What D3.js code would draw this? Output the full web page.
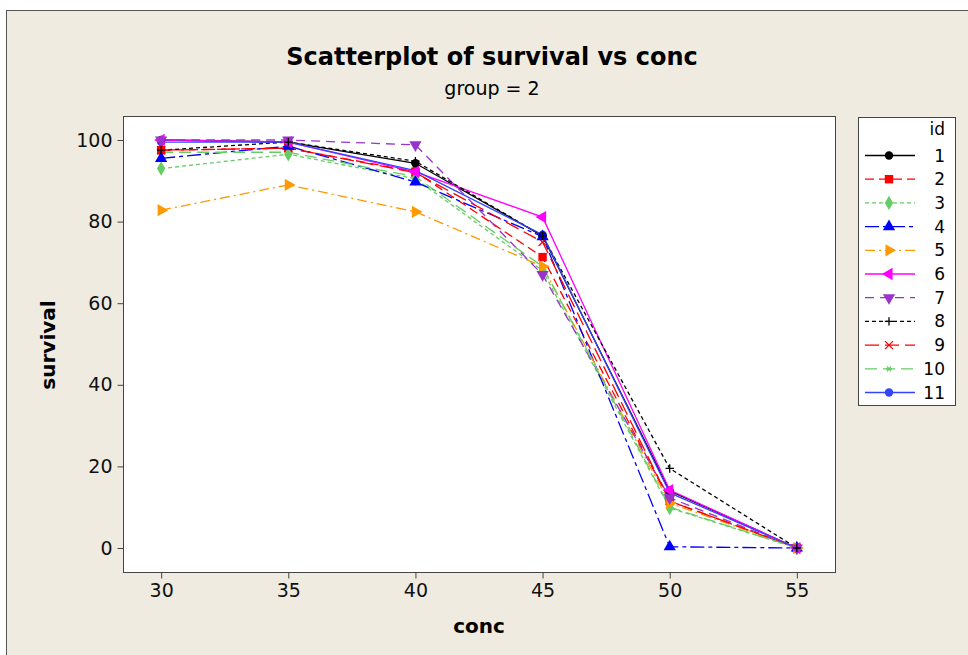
<!DOCTYPE html>
<html>
<head>
<meta charset="utf-8">
<script src="https://cdn.jsdelivr.net/npm/d3@7"></script>
<style>
  body { margin: 0; background: #fff; }
  svg { display: block; font-family: "DejaVu Sans", sans-serif; }
</style>
</head>
<body>
<svg width="968" height="655"></svg>
<script>
// data
const conc = [30, 35, 40, 45, 50, 55];
const ids = ["1", "2", "3", "4", "5", "6", "7", "8", "9", "10", "11"];
const survival1 = [100, 99.5, 94.3, 76.5, 14, 0];
const survival2 = [97.5, 98, 92.2, 71.3, 11.5, 0];
const survival3 = [93, 96.5, 90.5, 68, 9.8, 0];
const survival4 = [95.5, 98.5, 89.7, 76.3, 0.3, 0];
const survival5 = [82.8, 89, 82.4, 69, 11, 0];
const survival6 = [100, 99.5, 92.2, 81.1, 14.2, 0];
const survival7 = [100, 100, 98.8, 67, 12.3, 0];
const survival8 = [97.5, 99.5, 94.8, 76.5, 19.5, 0];
const survival9 = [97.5, 98, 92, 75, 11.5, 0];
const survival10 = [97, 97, 91, 69, 10, 0];
const survival11 = [99.5, 99.5, 92.5, 76.8, 13.5, 0];
const xTicks = [30, 35, 40, 45, 50, 55];
const yTicks = [0, 20, 40, 60, 80, 100];

const allSeries = [survival1, survival2, survival3, survival4, survival5, survival6,
  survival7, survival8, survival9, survival10, survival11];

// styles per id
const styles = [
  { color: "#000000", dash: null, sym: "circle" },
  { color: "#ff0000", dash: "9,5", sym: "square" },
  { color: "#66cc66", dash: "4,3", sym: "diamond" },
  { color: "#0000ff", dash: "14,4,4,4", sym: "triUp" },
  { color: "#ff9900", dash: "10,4,2,4", sym: "triRight" },
  { color: "#ff00ff", dash: null, sym: "triLeft" },
  { color: "#9933cc", dash: "9,6", sym: "triDown" },
  { color: "#000000", dash: "4,3", sym: "plus" },
  { color: "#ff0000", dash: "14,6", sym: "x" },
  { color: "#66cc66", dash: "12,6", sym: "star" },
  { color: "#3344ff", dash: null, sym: "circle" }
];

const svg = d3.select("svg");

// outer frame
svg.append("rect")
  .attr("x", 6.5).attr("y", 10.5)
  .attr("width", 980).attr("height", 660)
  .attr("fill", "#efebe1")
  .attr("stroke", "#555");

const x = d3.scaleLinear().domain([28.5, 56.5]).range([123, 835]);
const y = d3.scaleLinear().domain([-5.88, 105.88]).range([572, 116]);

svg.append("rect")
  .attr("x", 123.5).attr("y", 116.5)
  .attr("width", 712).attr("height", 456)
  .attr("fill", "#fff")
  .attr("stroke", "#444");

// axes
const xAxis = svg.append("g")
  .attr("transform", "translate(0,572.5)")
  .call(d3.axisBottom(x).tickValues(xTicks).tickSize(6).tickPadding(5));
xAxis.select(".domain").remove();

const yAxis = svg.append("g")
  .attr("transform", "translate(123.5,0)")
  .call(d3.axisLeft(y).tickValues(yTicks).tickSize(6).tickPadding(5));
yAxis.select(".domain").remove();

svg.selectAll(".tick line").attr("stroke", "#444");
svg.selectAll(".tick text")
  .attr("font-size", 19)
  .attr("font-family", "DejaVu Sans")
  .attr("fill", "#111");

// titles
svg.append("text")
  .attr("x", 492).attr("y", 65)
  .attr("text-anchor", "middle")
  .attr("font-size", 24).attr("font-weight", "bold")
  .text("Scatterplot of survival vs conc");

svg.append("text")
  .attr("x", 492).attr("y", 95)
  .attr("text-anchor", "middle")
  .attr("font-size", 19)
  .text("group = 2");

svg.append("text")
  .attr("x", 479).attr("y", 633)
  .attr("text-anchor", "middle")
  .attr("font-size", 20).attr("font-weight", "bold")
  .text("conc");

svg.append("text")
  .attr("transform", "translate(55,345) rotate(-90)")
  .attr("text-anchor", "middle")
  .attr("font-size", 20).attr("font-weight", "bold")
  .text("survival");

// markers
function marker(g, sym, color, cx, cy) {
  const s = 4.2;
  if (sym === "circle") {
    g.append("circle").attr("cx", cx).attr("cy", cy).attr("r", s).attr("fill", color);
  } else if (sym === "square") {
    g.append("rect").attr("x", cx - s).attr("y", cy - s)
      .attr("width", 2 * s).attr("height", 2 * s).attr("fill", color);
  } else if (sym === "diamond") {
    g.append("path").attr("d", d3.symbol(d3.symbolDiamond, 60)())
      .attr("transform", `translate(${cx},${cy})`).attr("fill", color);
  } else if (sym.startsWith("tri")) {
    const rot = { triUp: 0, triRight: 90, triDown: 180, triLeft: 270 }[sym];
    g.append("path").attr("d", d3.symbol(d3.symbolTriangle, 65)())
      .attr("transform", `translate(${cx},${cy}) rotate(${rot})`).attr("fill", color);
  } else if (sym === "plus") {
    g.append("path").attr("d", `M${cx - s},${cy}H${cx + s}M${cx},${cy - s}V${cy + s}`)
      .attr("stroke", color).attr("stroke-width", 1.3);
  } else if (sym === "x") {
    g.append("path")
      .attr("d", `M${cx - 4},${cy - 4}L${cx + 4},${cy + 4}M${cx - 4},${cy + 4}L${cx + 4},${cy - 4}`)
      .attr("stroke", color).attr("stroke-width", 1.3);
  } else if (sym === "star") {
    g.append("path")
      .attr("d", `M${cx - 3},${cy}H${cx + 3}M${cx - 2},${cy - 2.5}L${cx + 2},${cy + 2.5}M${cx - 2},${cy + 2.5}L${cx + 2},${cy - 2.5}`)
      .attr("stroke", color).attr("stroke-width", 1.3);
  }
}

const line = d3.line().x((d, i) => x(conc[i])).y(d => y(d));

const plot = svg.append("g");
allSeries.forEach((vals, k) => {
  const st = styles[k];
  plot.append("path")
    .datum(vals)
    .attr("d", line)
    .attr("fill", "none")
    .attr("stroke", st.color)
    .attr("stroke-width", 1.3)
    .attr("stroke-dasharray", st.dash);
});
// ids 9-11 sit underneath, the rest in order
const markerOrder = [10, 9, 8, 0, 1, 2, 3, 4, 5, 6, 7];
markerOrder.forEach(k => {
  const st = styles[k];
  const g = plot.append("g");
  allSeries[k].forEach((v, i) => marker(g, st.sym, st.color, x(conc[i]), y(v)));
});

// legend
const lg = svg.append("g");
lg.append("rect")
  .attr("x", 858.5).attr("y", 117.5)
  .attr("width", 97).attr("height", 288)
  .attr("fill", "#fff").attr("stroke", "#444");
lg.append("text")
  .attr("x", 945).attr("y", 135)
  .attr("text-anchor", "end")
  .attr("font-size", 17)
  .text("id");
ids.forEach((id, k) => {
  const st = styles[k];
  const yy = 155.5 + k * 23.7;
  lg.append("path")
    .attr("d", `M865,${yy}H915`)
    .attr("stroke", st.color)
    .attr("stroke-width", 1.3)
    .attr("stroke-dasharray", st.dash);
  marker(lg, st.sym, st.color, 889, yy);
  lg.append("text")
    .attr("x", 945).attr("y", yy + 6)
    .attr("text-anchor", "end")
    .attr("font-size", 17)
    .text(id);
});
</script>
</body>
</html>
